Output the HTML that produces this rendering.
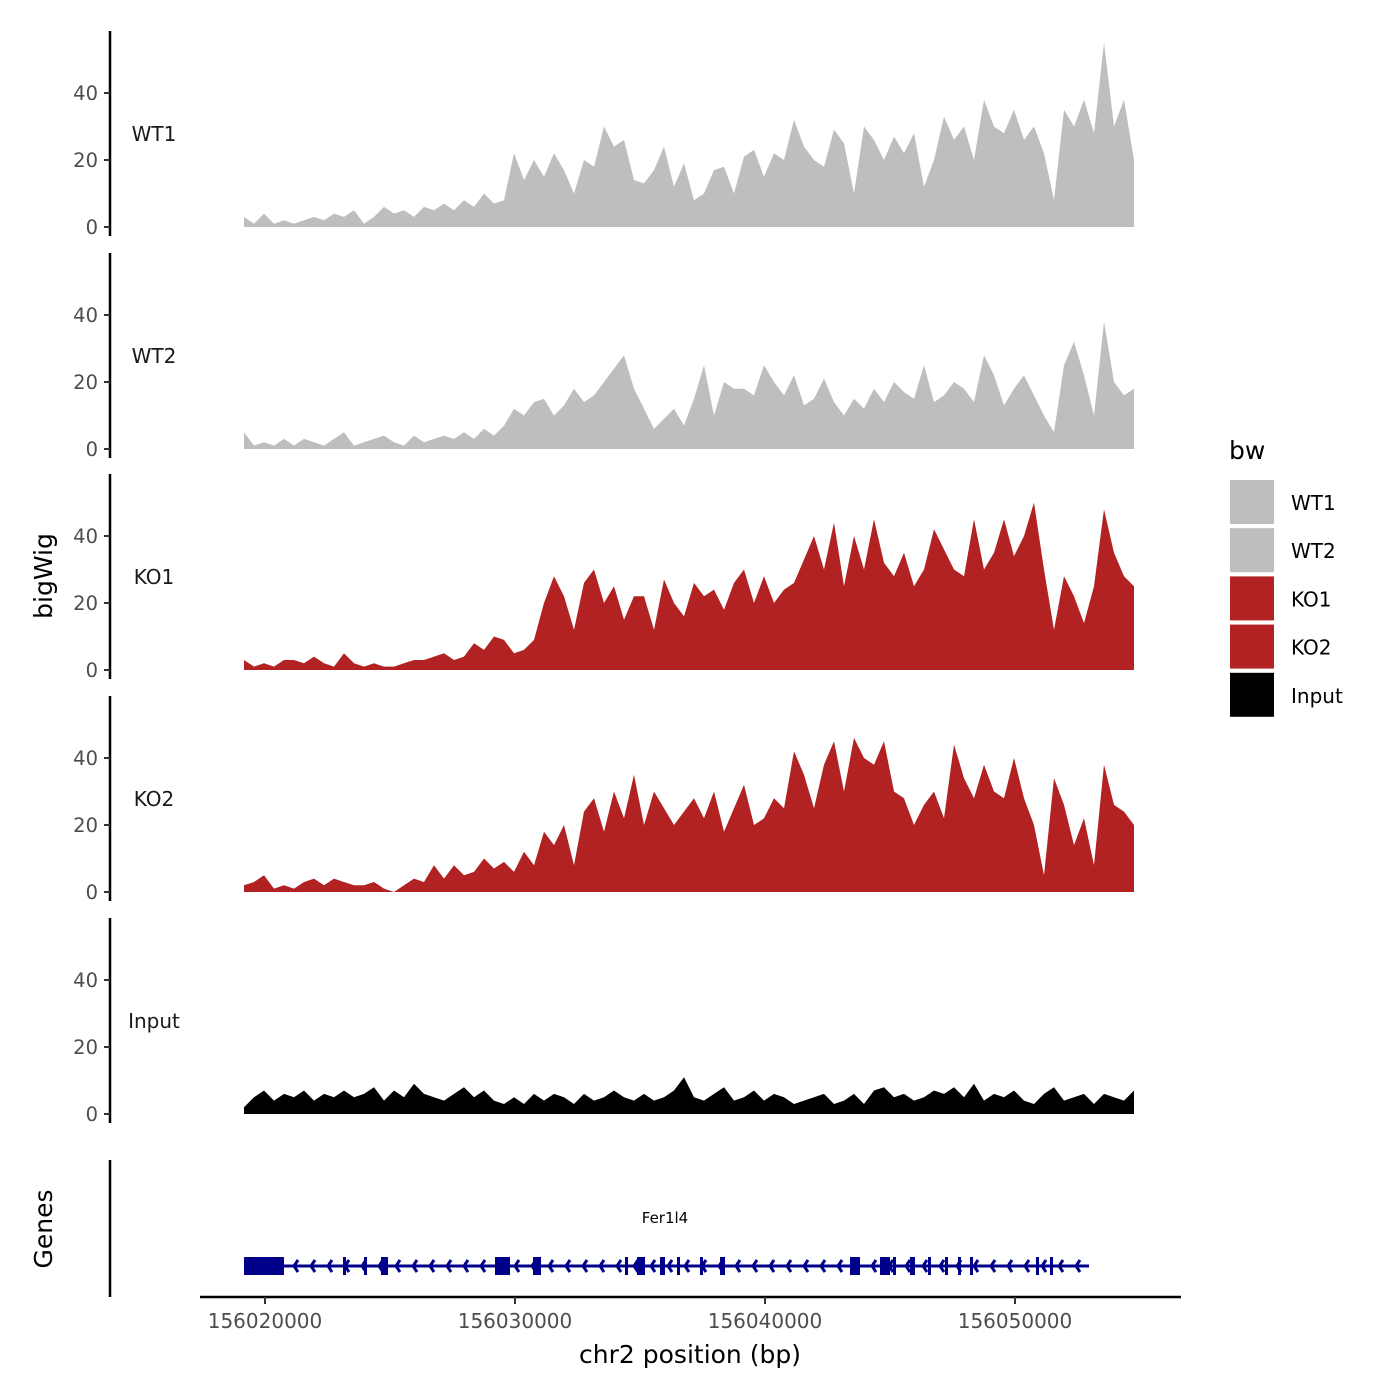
<!DOCTYPE html>
<html><head><meta charset="utf-8"><style>
html,body{margin:0;padding:0;background:#fff}
svg{display:block;font-family:"DejaVu Sans","Liberation Sans",sans-serif}
</style></head><body>
<svg id="chart" width="1400" height="1400" viewBox="0 0 1400 1400" xmlns="http://www.w3.org/2000/svg"></svg>
<script>
const trackNames = ["WT1","WT2","KO1","KO2","Input"];
const trackColors = ["#bebebe","#bebebe","#b22222","#b22222","#000000"];
const binStart = 156019160;
const binSize = 400;
const yTicks = [0,20,40];
const xTicks = [156020000,156030000,156040000,156050000];
const wt1 = [3,1,4,1,2,1,2,3,2,4, 3,5,1,3,6,4,5,3,6,5, 7,5,8,6,10,7,8,22,14,20, 15,22,17,10,20,18,30,24,26,14, 13,17,24,12,19,8,10,17,18,10, 21,23,15,22,20,32,24,20,18,29, 25,10,30,26,20,27,22,28,12,20, 33,26,30,20,38,30,28,35,26,30, 22,8,35,30,38,28,55,30,38,20];
const wt2 = [5,1,2,1,3,1,3,2,1,3, 5,1,2,3,4,2,1,4,2,3, 4,3,5,3,6,4,7,12,10,14, 15,10,13,18,14,16,20,24,28,18, 12,6,9,12,7,15,25,10,20,18, 18,16,25,20,16,22,13,15,21,14, 10,15,12,18,14,20,17,15,25,14, 16,20,18,14,28,22,13,18,22,16, 10,5,25,32,22,10,38,20,16,18];
const ko1 = [3,1,2,1,3,3,2,4,2,1, 5,2,1,2,1,1,2,3,3,4, 5,3,4,8,6,10,9,5,6,9, 20,28,22,12,26,30,20,25,15,22, 22,12,27,20,16,26,22,24,18,26, 30,20,28,20,24,26,33,40,30,44, 25,40,30,45,32,28,35,25,30,42, 36,30,28,45,30,35,45,34,40,50, 30,12,28,22,14,25,48,35,28,25];
const ko2 = [2,3,5,1,2,1,3,4,2,4, 3,2,2,3,1,0,2,4,3,8, 4,8,5,6,10,7,9,6,12,8, 18,14,20,8,24,28,18,30,22,35, 20,30,25,20,24,28,22,30,18,25, 32,20,22,28,25,42,35,25,38,45, 30,46,40,38,45,30,28,20,26,30, 22,44,34,28,38,30,28,40,28,20, 5,34,26,14,22,8,38,26,24,20];
const inputSig = [2,5,7,4,6,5,7,4,6,5, 7,5,6,8,4,7,5,9,6,5, 4,6,8,5,7,4,3,5,3,6, 4,6,5,3,6,4,5,7,5,4, 6,4,5,7,11,5,4,6,8,4, 5,7,4,6,5,3,4,5,6,3, 4,6,3,7,8,5,6,4,5,7, 6,8,5,9,4,6,5,7,4,3, 6,8,4,5,6,3,6,5,4,7];
const geneStart = 156019160, geneEnd = 156052960;
const exonStarts = [156019160,156023120,156023960,156024640,156029200,156030720,156034400,156034880,156035800,156036480,156037400,156038200,156043400,156044600,156045120,156045800,156046520,156047200,156047720,156048200,156050840,156051400];
const exonEnds =   [156020760,156023240,156024080,156024920,156029800,156031040,156034520,156035200,156036000,156036600,156037520,156038400,156043800,156045000,156045240,156046000,156046640,156047320,156047840,156048320,156050960,156051520];
const series = [wt1,wt2,ko1,ko2,inputSig];

const NS="http://www.w3.org/2000/svg";
const svg=document.getElementById('chart');
function mk(tag,attrs,parent){const e=document.createElementNS(NS,tag);for(const k in attrs)e.setAttribute(k,attrs[k]);(parent||svg).appendChild(e);return e;}
const xScale = bp => 265 + (bp-156020000)*0.025;
const zeroYs=[227,449,670,892,1114];
const yScale = (v,i) => zeroYs[i] - v*3.35;

series.forEach((vals,i)=>{
  const g=mk('g',{});
  
  
  const ax=mk('line',{x1:110,x2:110,y1:zeroYs[i]-196,y2:zeroYs[i]+9,stroke:'#000','stroke-width':2.5},g);
  
  
  yTicks.forEach(t=>{
    const y=yScale(t,i);
    mk('line',{x1:104,x2:110,y1:y,y2:y,stroke:'#333','stroke-width':2},g);
    const tx=mk('text',{x:98,y:y+7,'text-anchor':'end','font-size':19.5,fill:'#4d4d4d'},g);
    tx.textContent=t;
    
    
  });
  const lab=mk('text',{x:154,y:zeroYs[i]-86,'text-anchor':'middle','font-size':20,fill:'#1a1a1a'},g);
  lab.textContent=trackNames[i];
  
  
  let d='M'+xScale(binStart)+','+zeroYs[i];
  vals.forEach((v,j)=>{d+=' L'+xScale(binStart+j*binSize).toFixed(1)+','+yScale(v,i).toFixed(1);});
  d+=' L'+xScale(binStart+(vals.length-1)*binSize).toFixed(1)+','+zeroYs[i]+' Z';
  const p=mk('path',{d:d,fill:trackColors[i]},g);
  
  
});

const yt=mk('text',{x:52,y:576,'text-anchor':'middle','font-size':25,transform:'rotate(-90 52 576)'});
yt.textContent='bigWig';



const gg=mk('g',{});


mk('line',{x1:110,x2:110,y1:1160,y2:1297,stroke:'#000','stroke-width':2.5},gg);
const gt=mk('text',{x:52,y:1229,'text-anchor':'middle','font-size':25,transform:'rotate(-90 52 1229)'},gg);
gt.textContent='Genes';


mk('line',{x1:xScale(geneStart),x2:xScale(geneEnd),y1:1266,y2:1266,stroke:'#00008b','stroke-width':3},gg);
for(let x=xScale(geneStart)+50;x<xScale(geneEnd)-5;x+=17){
  mk('path',{d:`M${x+4},1260 L${x},1266 L${x+4},1272`,fill:'none',stroke:'#00008b','stroke-width':3},gg);
}
exonStarts.forEach((s,k)=>{
  const x1=xScale(s),x2=xScale(exonEnds[k]);
  const r=mk('rect',{x:x1,y:1257,width:Math.max(3,x2-x1),height:18,fill:'#00008b'},gg);
  
  
});
const gn=mk('text',{x:665,y:1223,'text-anchor':'middle','font-size':15,fill:'#000'},gg);
gn.textContent='Fer1l4';



const xa=mk('line',{x1:200,x2:1181,y1:1297,y2:1297,stroke:'#000','stroke-width':2.5});


xTicks.forEach(t=>{
  const x=xScale(t);
  mk('line',{x1:x,x2:x,y1:1297,y2:1304,stroke:'#333','stroke-width':2});
  const tx=mk('text',{x:x,y:1328,'text-anchor':'middle','font-size':20,fill:'#4d4d4d'});
  tx.textContent=t;
  
  
});
const xt=mk('text',{x:690,y:1363,'text-anchor':'middle','font-size':25});
xt.textContent='chr2 position (bp)';



const lg=mk('g',{});


const lt=mk('text',{x:1229,y:459,'font-size':25},lg);
lt.textContent='bw';


trackNames.forEach((n,i)=>{
  const y=480+i*48.2;
  const r=mk('rect',{x:1230,y:y,width:44,height:44,fill:trackColors[i]},lg);
  
  
  const t=mk('text',{x:1291,y:y+30,'font-size':20},lg);
  t.textContent=n;
  
  
});
</script>
</body></html>
